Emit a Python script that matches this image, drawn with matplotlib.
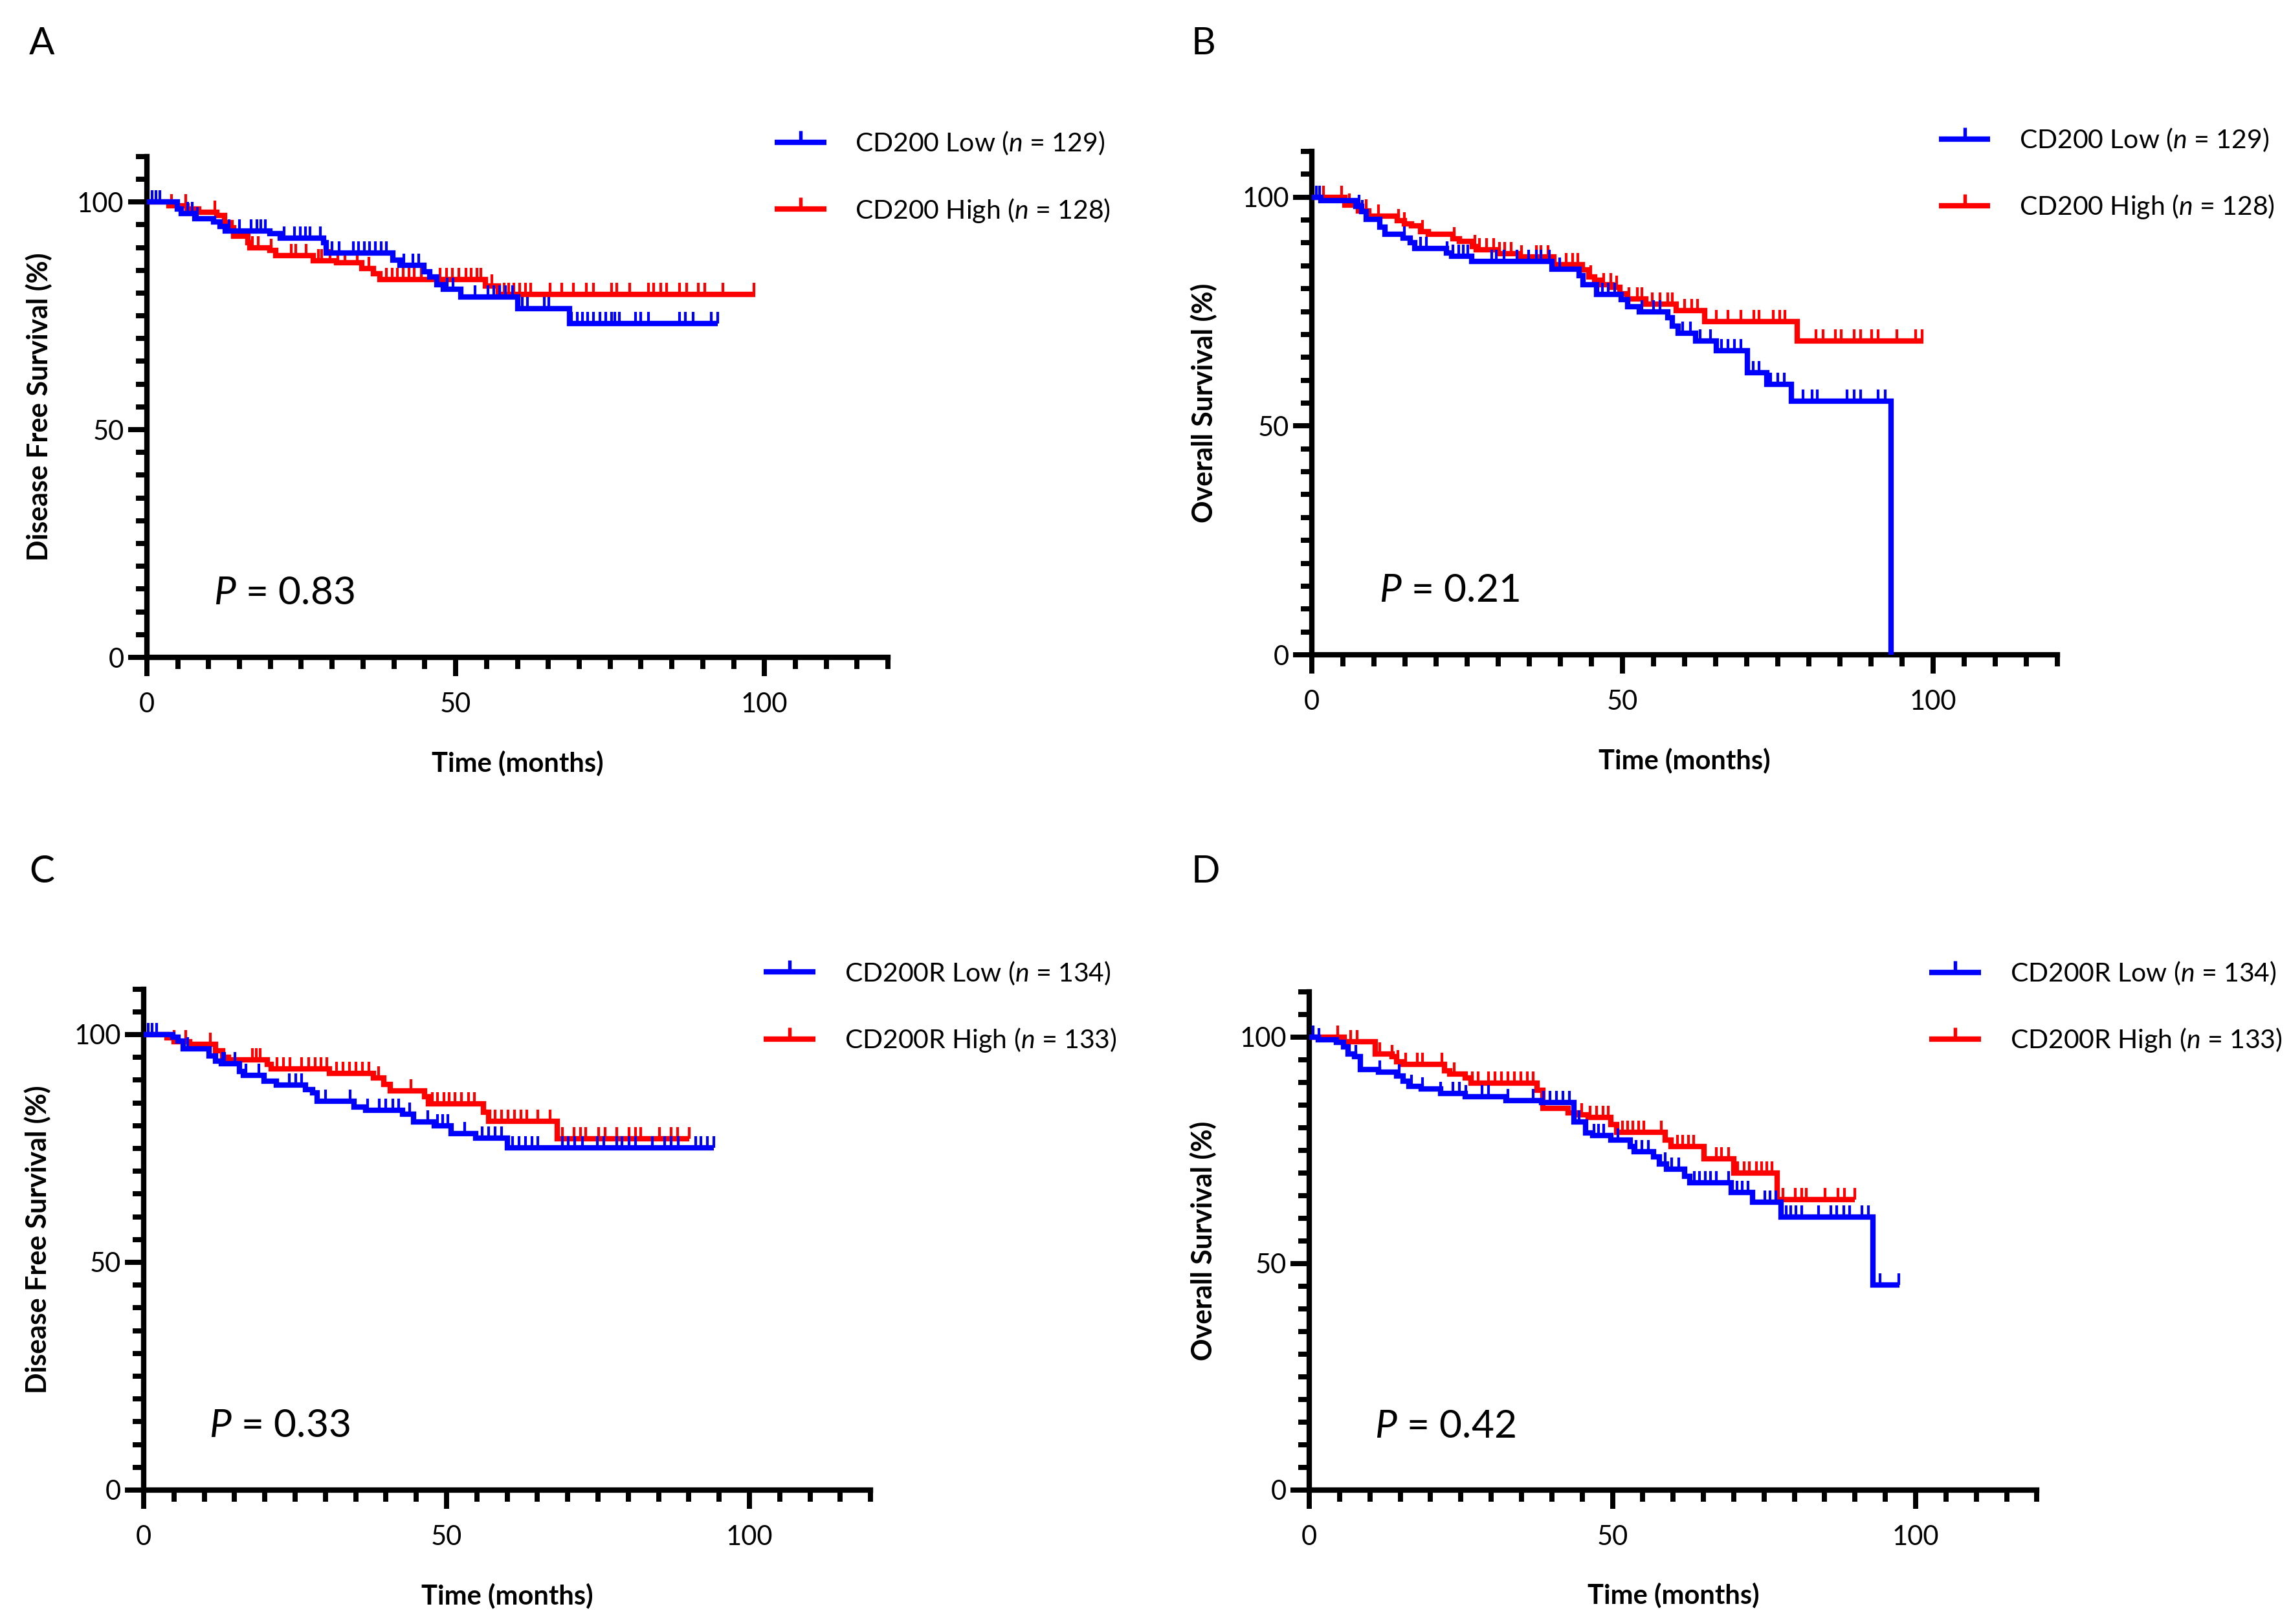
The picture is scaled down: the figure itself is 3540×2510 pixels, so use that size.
"""
Kaplan-Meier curves for CD200 / CD200R expression (DFS and OS)
"""

import numpy as np
import matplotlib
matplotlib.use('Agg')
import matplotlib.pyplot as plt
from matplotlib.lines import Line2D
from matplotlib.ticker import MultipleLocator

plt.rcParams['font.family'] = ['Lato', 'DejaVu Sans']
plt.rcParams['mathtext.fontset'] = 'custom'
plt.rcParams['mathtext.rm'] = 'Lato'
plt.rcParams['mathtext.it'] = 'Lato:italic'

# ---------------------------------------------------------------- data
# Panel A: disease free survival, CD200
A_LOW_T = [0, 4.9, 5.6, 7.8, 10.8, 11.9, 12.7, 19.9, 21.6, 28.6, 29.0, 39.8,
           41.0, 44.9, 45.8, 47.0, 48.0, 50.8, 60.1, 68.4, 92.4]
A_LOW_S = [100, 98.4, 97.5, 96.3, 95.6, 94.6, 93.6, 93.0, 92.0, 91.1, 88.8,
           87.3, 86.1, 84.7, 83.5, 81.8, 80.9, 79.2, 76.6, 73.3, 73.3]
A_LOW_C = [0.8, 1.5, 2.1, 6.6, 7.3, 8.2, 13.3, 15.0, 16.9, 17.8, 18.5, 19.2,
           22.2, 23.9, 24.8, 25.7, 26.4, 28.1, 30.0, 31.1, 33.4, 34.3, 35.2,
           36.1, 37.0, 37.9, 38.8, 41.6, 43.1, 44.0, 48.6, 49.6, 53.1, 55.2,
           56.2, 57.1, 58.1, 59.2, 60.8, 61.6, 64.3, 65.1, 68.8, 69.7, 70.5,
           71.4, 72.3, 73.4, 74.3, 75.2, 75.8, 76.5, 79.1, 80.0, 81.2, 86.3,
           87.2, 88.4, 91.4, 92.4]
A_HIGH_T = [0, 3.6, 6.5, 8.4, 11.3, 12.6, 13.6, 14.0, 16.4, 16.7, 19.9, 20.9,
            26.9, 30.7, 34.8, 36.7, 37.7, 54.8, 56.9, 98.5]
A_HIGH_S = [100, 99.2, 98.4, 97.8, 97.0, 95.4, 94.4, 92.5, 91.1, 89.9, 89.4,
            88.2, 87.1, 86.6, 85.4, 84.2, 83.0, 81.6, 79.7, 79.7]
A_HIGH_C = [4.0, 6.3, 11.0, 17.1, 18.0, 20.1, 23.4, 24.1, 25.8, 27.8, 28.3,
            29.7, 30.9, 32.1, 34.1, 36.0, 38.8, 39.7, 40.6, 41.5, 42.4, 43.3,
            44.4, 47.5, 48.5, 49.5, 50.5, 51.7, 52.5, 53.4, 54.1, 55.9, 57.8,
            58.6, 59.4, 60.4, 61.3, 62.1, 65.3, 67.2, 69.1, 71.2, 72.3, 75.2,
            76.1, 78.2, 81.2, 82.1, 83.2, 84.2, 86.3, 87.4, 89.3, 90.3, 93.3,
            98.3]

# Panel B: overall survival, CD200
B_LOW_T = [0, 1.5, 7.1, 8.0, 8.8, 10.9, 11.8, 14.7, 15.8, 16.6, 21.7, 22.5,
           25.7, 38.7, 43.0, 43.7, 45.8, 49.8, 50.8, 52.7, 57.3, 58.0, 59.0,
           61.8, 65.1, 70.1, 73.2, 77.2, 93.2]
B_LOW_S = [100, 99.2, 98.0, 96.8, 95.1, 93.5, 91.9, 91.1, 90.0, 88.8, 87.8,
           87.1, 86.0, 84.2, 82.9, 80.8, 78.8, 77.6, 76.1, 74.9, 73.7, 71.8,
           70.2, 68.5, 66.4, 61.7, 59.1, 55.4, 0]
B_LOW_C = [0.7, 1.2, 7.6, 8.1, 14.9, 17.5, 18.4, 21.8, 22.7, 23.6, 24.4, 25.1,
           29.0, 29.7, 30.9, 33.0, 34.9, 36.1, 36.9, 38.2, 39.9, 46.8, 47.7,
           48.8, 53.1, 55.0, 56.0, 59.7, 60.9, 62.5, 64.2, 65.9, 67.0, 68.0,
           69.1, 71.0, 72.0, 73.9, 75.0, 76.0, 79.1, 80.5, 81.4, 86.2, 87.3,
           88.3, 91.2, 92.3]
B_HIGH_T = [0, 5.3, 7.5, 9.2, 13.7, 14.9, 16.0, 17.5, 18.7, 22.7, 23.8, 25.8,
            26.5, 30.0, 33.5, 39.0, 43.5, 44.6, 45.5, 46.5, 48.3, 49.6, 50.7,
            53.8, 58.6, 63.2, 78.1, 98.4]
B_HIGH_S = [100, 98.3, 97.0, 95.8, 94.9, 94.2, 93.7, 92.5, 91.9, 90.9, 90.3,
            89.2, 88.5, 87.6, 86.9, 85.2, 84.1, 82.6, 81.9, 80.8, 80.3, 78.9,
            77.7, 76.6, 75.2, 72.8, 68.5, 68.5]
B_HIGH_C = [1.9, 4.8, 6.0, 8.8, 10.7, 14.0, 14.9, 17.8, 22.9, 26.2, 27.0,
            28.1, 29.3, 30.2, 31.0, 32.1, 33.8, 36.1, 36.9, 38.0, 40.9, 42.0,
            42.8, 44.9, 47.0, 48.1, 49.1, 51.0, 52.4, 53.1, 54.8, 56.0, 57.3,
            58.0, 60.0, 61.1, 62.1, 65.1, 67.0, 69.1, 71.1, 72.0, 74.3, 75.3,
            76.2, 81.2, 82.3, 84.3, 85.2, 87.3, 88.3, 90.1, 91.1, 94.2, 97.2,
            98.2]

# Panel C: disease free survival, CD200R
C_LOW_T = [0, 4.8, 5.7, 6.5, 10.8, 11.9, 12.8, 15.8, 16.5, 19.9, 21.9, 26.7,
           27.9, 28.6, 34.7, 36.6, 42.7, 44.6, 48.0, 50.7, 54.8, 60.0, 94.1]
C_LOW_S = [100, 99.5, 98.6, 96.9, 95.3, 94.2, 93.6, 91.9, 91.0, 89.8, 88.9,
           87.9, 87.2, 85.3, 84.1, 83.4, 82.5, 80.8, 79.9, 78.3, 77.3, 75.2,
           75.2]
C_LOW_C = [0.7, 1.4, 2.1, 7.3, 13.0, 13.4, 15.1, 16.9, 19.0, 24.0, 25.1, 26.1,
           30.0, 34.1, 37.0, 38.9, 40.0, 41.1, 42.1, 43.9, 46.9, 48.5, 49.4,
           50.2, 53.0, 55.9, 57.0, 58.0, 59.1, 60.9, 62.0, 63.0, 64.1, 65.1,
           69.1, 70.1, 71.2, 72.4, 74.9, 76.0, 78.1, 79.0, 80.1, 81.2, 84.0,
           86.0, 87.1, 88.3, 91.1, 92.0, 93.1, 94.1]
C_HIGH_T = [0, 3.9, 5.0, 7.6, 11.9, 13.0, 14.0, 20.4, 21.0, 30.7, 37.9, 39.6,
            40.7, 46.4, 47.0, 56.1, 57.0, 68.3, 90.1]
C_HIGH_S = [100, 99.3, 98.5, 97.8, 96.4, 95.0, 94.5, 93.4, 92.5, 91.5, 90.5,
            89.1, 87.7, 86.3, 84.8, 83.0, 80.9, 77.1, 77.1]
C_HIGH_C = [5.0, 6.9, 11.0, 17.9, 18.6, 19.2, 22.0, 23.1, 24.2, 26.1, 27.2,
            28.3, 29.3, 30.2, 31.8, 32.9, 34.0, 35.0, 36.1, 37.2, 38.8, 44.1,
            47.7, 48.5, 49.6, 50.4, 51.4, 52.5, 53.6, 54.6, 58.0, 59.1, 60.2,
            61.2, 62.3, 63.2, 65.1, 67.1, 69.1, 71.1, 72.1, 73.0, 75.1, 76.2,
            78.1, 80.1, 81.2, 82.0, 85.1, 87.1, 88.1, 90.1]

# Panel D: overall survival, CD200R
D_LOW_T = [0, 1.5, 4.5, 5.6, 6.4, 7.5, 8.4, 11.4, 14.4, 15.5, 16.4, 18.4,
           21.7, 25.7, 32.4, 38.3, 43.6, 45.6, 46.7, 49.7, 52.9, 53.6, 56.8,
           57.7, 58.9, 61.9, 62.8, 69.6, 73.1, 77.8, 93.0, 97.3]
D_LOW_S = [100, 99.4, 98.8, 97.9, 96.2, 95.7, 92.9, 92.3, 91.4, 90.2, 89.1,
           88.6, 87.5, 86.9, 86.0, 85.5, 81.2, 78.8, 78.3, 77.3, 75.9, 74.7,
           73.5, 72.0, 70.9, 69.2, 67.8, 65.7, 63.5, 60.2, 45.2, 45.2]
D_LOW_C = [0.6, 1.6, 7.7, 11.6, 14.8, 16.8, 18.7, 21.7, 23.7, 24.8, 25.8,
           28.5, 29.6, 32.8, 36.9, 38.6, 39.7, 40.8, 41.8, 42.9, 44.5, 46.9,
           47.7, 48.6, 50.9, 53.9, 54.8, 55.9, 58.7, 59.8, 60.9, 63.5, 64.4,
           65.3, 66.2, 67.1, 69.1, 70.5, 71.4, 72.3, 75.1, 76.0, 76.9, 78.7,
           79.4, 80.3, 81.2, 84.0, 86.0, 87.0, 88.1, 89.1, 91.1, 92.2, 94.1,
           97.2]
D_HIGH_T = [0, 5.7, 10.9, 13.6, 14.4, 15.3, 22.3, 23.2, 25.7, 26.7, 37.6,
            38.5, 42.7, 44.5, 46.0, 49.7, 50.7, 58.7, 59.6, 65.1, 70.0, 77.2,
            90.0]
D_HIGH_S = [100, 99.0, 96.2, 95.7, 94.5, 94.0, 92.6, 91.9, 91.0, 89.8, 88.3,
            84.3, 83.3, 82.9, 82.2, 80.7, 79.0, 77.3, 75.9, 73.1, 70.0, 64.1,
            64.1]
D_HIGH_C = [4.7, 6.8, 7.9, 11.6, 13.6, 14.6, 15.9, 17.8, 18.7, 21.9, 23.9,
            26.9, 27.8, 29.6, 30.6, 31.7, 32.8, 33.8, 34.9, 36.0, 36.9, 44.9,
            46.3, 47.4, 48.4, 49.3, 51.6, 52.5, 53.4, 54.3, 55.2, 58.0, 60.7,
            61.6, 62.5, 63.4, 67.1, 68.0, 69.1, 70.6, 71.7, 72.6, 73.7, 74.6,
            75.4, 76.3, 78.1, 80.1, 81.2, 82.0, 85.1, 87.2, 88.3, 90.0]

PANEL_LETTERS = ['A', 'B', 'C', 'D']
Y_LABELS = ['Disease Free Survival (%)', 'Overall Survival (%)',
            'Disease Free Survival (%)', 'Overall Survival (%)']
LOW_LABELS = ['CD200 Low ($n$ = 129)', 'CD200 Low ($n$ = 129)',
              'CD200R Low ($n$ = 134)', 'CD200R Low ($n$ = 134)']
HIGH_LABELS = ['CD200 High ($n$ = 128)', 'CD200 High ($n$ = 128)',
               'CD200R High ($n$ = 133)', 'CD200R High ($n$ = 133)']
P_VALUES = ['0.83', '0.21', '0.33', '0.42']

# ---------------------------------------------------------------- layout
BLUE = '#0000ff'
RED = '#ff0000'
CENSOR = [(0, 0), (0, 1)]   # upward tick mark
LW = 2.0
AX_RECTS = [[0.0641, 0.5952, 0.3235, 0.3085],
            [0.5726, 0.5968, 0.3254, 0.3100],
            [0.0627, 0.0825, 0.3173, 0.3085],
            [0.5715, 0.0825, 0.3176, 0.3068]]
LETTER_POS = [(0.0127, 0.973), (0.520, 0.973), (0.0127, 0.463),
              (0.520, 0.463)]
LEGEND_POS = [(0.847, 0.959), (0.841, 0.956), (0.853, 0.965), (0.852, 0.970)]


def draw_km(ax, times, surv, censor, color):
    """
    Draw one Kaplan-Meier step curve with its censor ticks

    Returns
    -------
    handle: Line2D
        Proxy artist for the legend
    """
    times = np.asarray(times, dtype=float)
    surv = np.asarray(surv, dtype=float)
    censor = np.asarray(censor, dtype=float)
    ax.step(times, surv, where='post', color=color, lw=LW,
            solid_joinstyle='miter', solid_capstyle='butt', clip_on=False,
            zorder=3)
    idx = np.searchsorted(times, censor, side='right') - 1
    ax.plot(censor, surv[idx], ls='none', marker=CENSOR, ms=8.5, mew=1.0,
            mec=color, mfc=color, clip_on=False, zorder=3)
    handle = Line2D([], [], color=color, lw=LW, marker=CENSOR, ms=8.5,
                    mew=1.3, mec=color, solid_capstyle='butt')
    return handle


def style_axes(ax, ylabel):
    """
    Prism-like axes: only left/bottom spines, minor ticks every 5
    """
    ax.set_xlim(0, 120)
    ax.set_ylim(0, 110)
    for side in ['top', 'right']:
        ax.spines[side].set_visible(False)
    for side in ['left', 'bottom']:
        ax.spines[side].set_linewidth(2.0)
    ax.xaxis.set_major_locator(MultipleLocator(50))
    ax.xaxis.set_minor_locator(MultipleLocator(5))
    ax.yaxis.set_major_locator(MultipleLocator(50))
    ax.yaxis.set_minor_locator(MultipleLocator(5))
    ax.tick_params(which='major', length=7, width=1.9, labelsize=10)
    ax.tick_params(which='minor', length=4.2, width=1.9)
    ax.tick_params(axis='x', which='major', pad=6)
    ax.tick_params(axis='y', which='major', pad=1.5)
    ax.set_xlabel('Time (months)', fontsize=10, fontweight='bold')
    ax.set_ylabel(ylabel, fontsize=10.3, fontweight='bold')
    ax.xaxis.set_label_coords(0.5, -0.185)
    ax.yaxis.set_label_coords(-0.127, 0.5)


fig = plt.figure(figsize=(11.8, 2510 / 300), dpi=300)

curves = [(A_LOW_T, A_LOW_S, A_LOW_C, A_HIGH_T, A_HIGH_S, A_HIGH_C),
          (B_LOW_T, B_LOW_S, B_LOW_C, B_HIGH_T, B_HIGH_S, B_HIGH_C),
          (C_LOW_T, C_LOW_S, C_LOW_C, C_HIGH_T, C_HIGH_S, C_HIGH_C),
          (D_LOW_T, D_LOW_S, D_LOW_C, D_HIGH_T, D_HIGH_S, D_HIGH_C)]

for i, (lt, ls, lc, ht, hs, hc) in enumerate(curves):
    ax = fig.add_axes(AX_RECTS[i])
    style_axes(ax, Y_LABELS[i])
    h_high = draw_km(ax, ht, hs, hc, RED)
    h_low = draw_km(ax, lt, ls, lc, BLUE)
    ax.legend(handles=[h_low, h_high], labels=[LOW_LABELS[i], HIGH_LABELS[i]],
              loc='center left', bbox_to_anchor=LEGEND_POS[i], frameon=False,
              fontsize=9.8, borderpad=0, borderaxespad=0, handlelength=1.95,
              handletextpad=1.1, labelspacing=1.5, numpoints=1)
    ax.text(10.8, 14, f'$P$ = {P_VALUES[i]}', fontsize=14.5, ha='left',
            va='center')
    fig.text(LETTER_POS[i][0], LETTER_POS[i][1], PANEL_LETTERS[i],
             fontsize=14, ha='left', va='center')

fig.savefig('out.png', dpi=300, facecolor='white')
